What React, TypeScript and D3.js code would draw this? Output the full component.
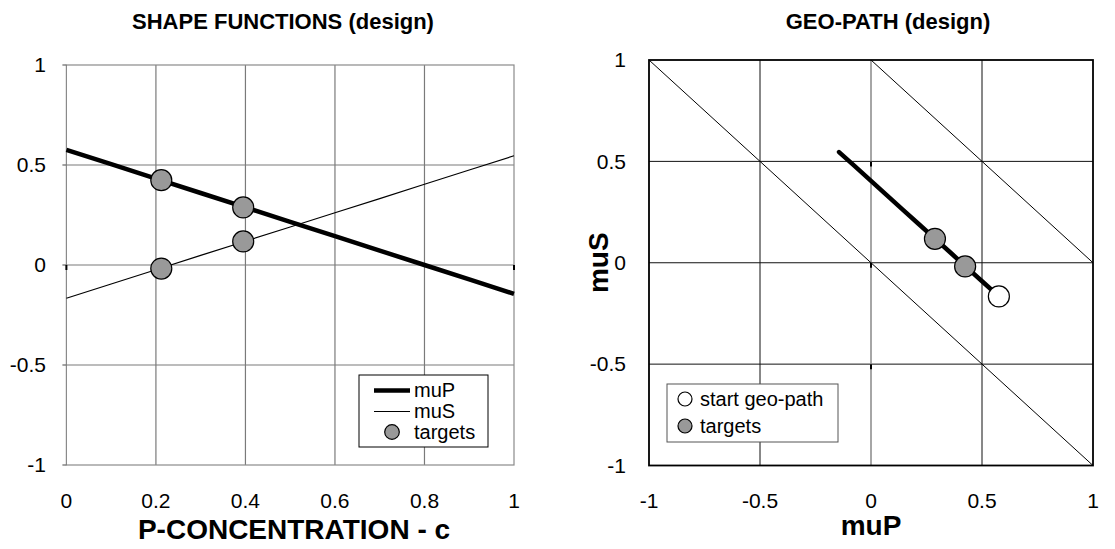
import React from "react";
import * as d3 from "d3";

// Shape functions sampled along the P-concentration axis
const cValues = [0, 0.1, 0.2, 0.3, 0.4, 0.5, 0.6, 0.7, 0.8, 0.9, 1];
const muPValues = [0.576, 0.504, 0.432, 0.36, 0.288, 0.216, 0.144, 0.072, 0.0, -0.072, -0.144];
const muSValues = [-0.166, -0.095, -0.024, 0.048, 0.119, 0.19, 0.261, 0.332, 0.404, 0.475, 0.546];

// Design targets
const targetC = [0.212, 0.395];
const targetMuP = [0.424, 0.288];
const targetMuS = [-0.018, 0.118];

// Tick values
const leftTicksX = [0, 0.2, 0.4, 0.6, 0.8, 1];
const leftTicksY = [-1, -0.5, 0, 0.5, 1];
const rightTicks = [-1, -0.5, 0, 0.5, 1];
const tickLabel = (v: number) => String(v);

// Reference diagonals in the muP/muS plane: muP + muS = k
const diagonalSums = [0, 1];

const FONT = "'Liberation Sans', Arial, Helvetica, sans-serif";

export default function App() {
  // Left panel scales
  const lx = d3.scaleLinear().domain([0, 1]).range([66.4, 514]);
  const ly = d3.scaleLinear().domain([-1, 1]).range([465, 65]);
  // Right panel scales
  const rx = d3.scaleLinear().domain([-1, 1]).range([649, 1093]);
  const ry = d3.scaleLinear().domain([-1, 1]).range([465.5, 60]);

  const muPLine = d3
    .line<number>()
    .x((_, i) => lx(cValues[i]))
    .y((d) => ly(d));
  const geoLine = d3
    .line<number>()
    .x((_, i) => rx(muPValues[i]))
    .y((_, i) => ry(muSValues[i]));

  // segment of muP + muS = k inside the [-1,1] square
  const clipDiag = (k: number): [number, number][] => {
    const x0 = Math.max(-1, k - 1);
    const x1 = Math.min(1, k + 1);
    return [
      [x0, k - x0],
      [x1, k - x1],
    ];
  };

  return (
    <svg
      width={1115}
      height={549}
      style={{ position: "absolute", left: 0, top: 0, background: "#fff" }}
      fontFamily={FONT}
    >
      {/* ===== Left panel: shape functions ===== */}
      <text x={283} y={29} textAnchor="middle" fontSize={22} fontWeight="bold">
        SHAPE FUNCTIONS (design)
      </text>
      <g>
        {leftTicksX.slice(1, -1).map((t) => (
          <line key={"lgx" + t} x1={lx(t)} x2={lx(t)} y1={ly(-1)} y2={ly(1)} stroke="#7a7a7a" strokeWidth={1.2} />
        ))}
        {leftTicksY.slice(1, -1).map((t) => (
          <line key={"lgy" + t} x1={lx(0)} x2={lx(1)} y1={ly(t)} y2={ly(t)} stroke="#7a7a7a" strokeWidth={1.2} />
        ))}
        <rect x={lx(0)} y={ly(1)} width={lx(1) - lx(0)} height={ly(-1) - ly(1)} fill="none" stroke="#8a8a8a" strokeWidth={1.2} />
        {leftTicksY.map((t) => (
          <line key={"lty" + t} x1={lx(0) - 4} x2={lx(0)} y1={ly(t)} y2={ly(t)} stroke="#666" strokeWidth={1.2} />
        ))}
        <line x1={lx(0)} x2={lx(0)} y1={ly(0)} y2={ly(0) + 5} stroke="#000" strokeWidth={2} />
        <line x1={lx(1)} x2={lx(1)} y1={ly(0)} y2={ly(0) + 5} stroke="#000" strokeWidth={2} />
        {leftTicksY.map((t) => (
          <text key={"lly" + t} x={46} y={ly(t)} dy="0.35em" textAnchor="end" fontSize={21}>
            {tickLabel(t)}
          </text>
        ))}
        {leftTicksX.map((t) => (
          <text key={"llx" + t} x={lx(t)} y={508} textAnchor="middle" fontSize={21}>
            {tickLabel(t)}
          </text>
        ))}
        <path d={muPLine(muSValues) || ""} fill="none" stroke="#000" strokeWidth={1.2} />
        <path d={muPLine(muPValues) || ""} fill="none" stroke="#000" strokeWidth={4.5} strokeLinejoin="round" />
        {targetC.map((c, i) => (
          <g key={"lt" + i}>
            <circle cx={lx(c)} cy={ly(targetMuP[i])} r={10.5} fill="#999" stroke="#000" strokeWidth={1.2} />
            <circle cx={lx(c)} cy={ly(targetMuS[i])} r={10.5} fill="#999" stroke="#000" strokeWidth={1.2} />
          </g>
        ))}
        {/* legend */}
        <rect x={359} y={375} width={129} height={72} fill="#fff" stroke="#000" strokeWidth={1} />
        <line x1={374} x2={410} y1={390.5} y2={390.5} stroke="#000" strokeWidth={4.5} />
        <text x={414} y={397} fontSize={20}>muP</text>
        <line x1={374} x2={410} y1={411.5} y2={411.5} stroke="#000" strokeWidth={1.2} />
        <text x={414} y={418} fontSize={20}>muS</text>
        <circle cx={392} cy={432} r={7.3} fill="#999" stroke="#000" strokeWidth={1.2} />
        <text x={414} y={439} fontSize={20}>targets</text>
        <text x={294} y={539} textAnchor="middle" fontSize={28} fontWeight="bold">
          P-CONCENTRATION - c
        </text>
      </g>

      {/* ===== Right panel: geo-path ===== */}
      <text x={888} y={29} textAnchor="middle" fontSize={22} fontWeight="bold">
        GEO-PATH (design)
      </text>
      <g>
        {rightTicks.slice(1, -1).map((t) =>
          t === 0 ? null : (
            <line key={"rgx" + t} x1={rx(t)} x2={rx(t)} y1={ry(-1)} y2={ry(1)} stroke="#111" strokeWidth={1} />
          )
        )}
        {rightTicks.slice(1, -1).map((t) => (
          <line key={"rgy" + t} x1={rx(-1)} x2={rx(1)} y1={ry(t)} y2={ry(t)} stroke="#111" strokeWidth={1} />
        ))}
        <line x1={rx(0)} x2={rx(0)} y1={ry(-1)} y2={ry(1)} stroke="#888" strokeWidth={1.5} />
        {rightTicks.slice(1, -1).map((t) => (
          <line key={"rty" + t} x1={rx(0)} x2={rx(0)} y1={ry(t)} y2={ry(t) + 5} stroke="#000" strokeWidth={2} />
        ))}
        {diagonalSums.map((k) => {
          const [[a, b], [c, d]] = clipDiag(k);
          return <line key={"rd" + k} x1={rx(a)} y1={ry(b)} x2={rx(c)} y2={ry(d)} stroke="#000" strokeWidth={1} />;
        })}
        <rect x={rx(-1)} y={ry(1)} width={rx(1) - rx(-1)} height={ry(-1) - ry(1)} fill="none" stroke="#000" strokeWidth={1.8} />
        {rightTicks.map((t) => (
          <text key={"rly" + t} x={626} y={ry(t)} dy="0.35em" textAnchor="end" fontSize={21}>
            {tickLabel(t)}
          </text>
        ))}
        {rightTicks.map((t) => (
          <text key={"rlx" + t} x={rx(t)} y={508} textAnchor="middle" fontSize={21}>
            {tickLabel(t)}
          </text>
        ))}
        <path d={geoLine(muPValues) || ""} fill="none" stroke="#000" strokeWidth={4.5} strokeLinecap="round" />
        {targetC.map((_, i) => (
          <circle key={"rt" + i} cx={rx(targetMuP[i])} cy={ry(targetMuS[i])} r={10.5} fill="#999" stroke="#000" strokeWidth={1.2} />
        ))}
        <circle cx={rx(muPValues[0])} cy={ry(muSValues[0])} r={10.5} fill="#fff" stroke="#000" strokeWidth={1.2} />
        {/* legend */}
        <rect x={667} y={384} width={171} height={58} fill="#fff" stroke="#555" strokeWidth={1} />
        <circle cx={685} cy={399} r={7} fill="#fff" stroke="#000" strokeWidth={1.2} />
        <text x={700} y={406} fontSize={20}>start geo-path</text>
        <circle cx={685} cy={426} r={7} fill="#999" stroke="#000" strokeWidth={1.2} />
        <text x={700} y={433} fontSize={20}>targets</text>
        <text x={871} y={535} textAnchor="middle" fontSize={28} fontWeight="bold">
          muP
        </text>
        <text
          transform={`translate(608, ${ry(0)}) rotate(-90)`}
          textAnchor="middle"
          fontSize={28}
          fontWeight="bold"
        >
          muS
        </text>
      </g>
    </svg>
  );
}
